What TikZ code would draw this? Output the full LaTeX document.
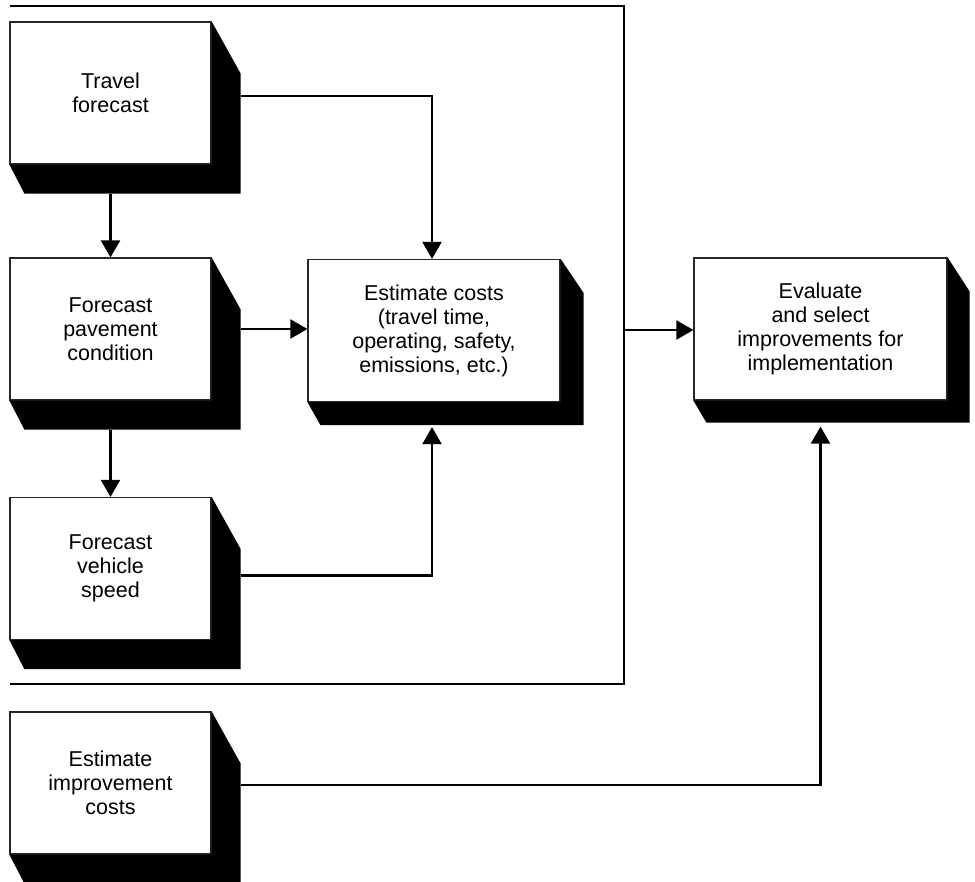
\documentclass[tikz,border=0pt]{standalone}
\usepackage{fontspec}
\setmainfont{Liberation Sans}
\usetikzlibrary{arrows.meta}
\begin{document}
\begin{tikzpicture}[x=1pt,y=-1pt,
  face/.style={draw=black!85,line width=1.2pt,fill=white,align=center,
    font=\fontsize{21.5}{24}\selectfont,inner sep=0pt},
  lbox/.style={face,minimum width=201pt,minimum height=142pt},
  rbox/.style={face,minimum width=252pt,minimum height=142pt},
  conn/.style={line width=2.2pt,-{Triangle[width=19pt,length=17pt]}},
  plain/.style={line width=2.2pt}]
\useasboundingbox (0,0) rectangle (975,882);
\newcommand\shd[4]{%
  \fill (#1.north east) -- ++(#2pt,-#3pt) -- ([shift={(#2pt,-#2pt)}]#1.south east)
   -- ([shift={(#4pt,-#2pt)}]#1.south west) -- (#1.south west) -- (#1.south east) -- cycle;}
% frame
\draw[line width=2.6pt] (10,6) -- (624,6) -- (624,684) -- (10,684);
\coordinate (fr) at (624,330);
% nodes
\node[lbox] (travel) at (110.5,93) {Travel\\forecast};
\node[lbox] (pave) at (110.5,329) {Forecast\\pavement\\condition};
\node[lbox] (speed) at (110.5,568.5) {Forecast\\vehicle\\speed};
\node[lbox] (impr) at (110.5,783) {Estimate\\improvement\\costs};
\node[rbox] (est) at (434,330.5) {Estimate costs\\(travel time,\\operating, safety,\\emissions, etc.)};
\node[rbox,minimum width=253pt] (eval) at (820.5,329) {Evaluate\\and select\\improvements for\\implementation};
% shadows
\shd{travel}{29}{52}{15}
\shd{pave}{29}{52}{15}
\shd{speed}{29}{52}{15}
\shd{impr}{29}{52}{15}
\shd{est}{23}{34}{13}
\shd{eval}{22}{34}{13}
% shadow-side coordinates
\coordinate (travelR) at ([shift={(29pt,-3pt)}]travel.east);
\coordinate (travelB) at ([shift={(0pt,-29pt)}]travel.south);
\coordinate (paveR) at ([xshift=29pt]pave.east);
\coordinate (paveB) at ([shift={(0pt,-29pt)}]pave.south);
\coordinate (speedR) at ([shift={(29pt,-7pt)}]speed.east);
\coordinate (imprR) at ([shift={(29pt,-2pt)}]impr.east);
\coordinate (estB) at ([shift={(-2pt,-25pt)}]est.south);
\coordinate (evalB) at ([shift={(0pt,-26pt)}]eval.south);
% connectors
\draw[conn] (travelB) -- (pave.north);
\draw[conn] (paveB) -- (speed.north);
\draw[conn] (paveR) -- (paveR -| est.west);
\draw[conn] (travelR) -| ([xshift=-2pt]est.north);
\draw[conn] (speedR) -| (estB);
\draw[conn] (fr) -- (fr -| eval.west);
\draw[conn] (imprR) -| (evalB);
\end{tikzpicture}
\end{document}
